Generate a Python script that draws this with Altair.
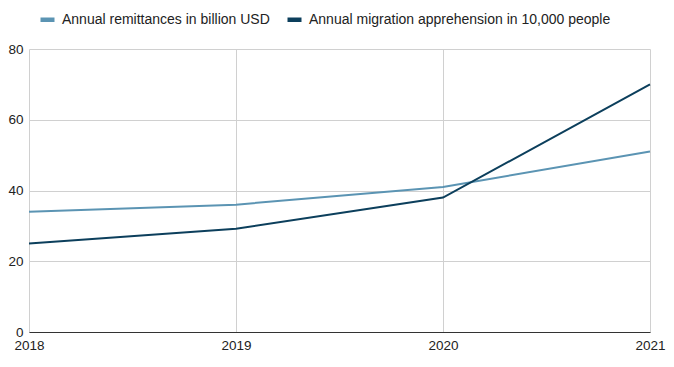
import altair as alt
import pandas as pd

years = [2018, 2019, 2020, 2021]
remittances = [34.0, 36.0, 41.0, 51.0]
apprehension = [25.0, 29.2, 38.0, 70.0]
series_names = ["Annual remittances in billion USD", "Annual migration apprehension in 10,000 people"]
colors = ["#5b94b3", "#0c3f5c"]

rows = []
for y, v in zip(years, remittances):
    rows.append({"year": y, "value": v, "series": series_names[0]})
for y, v in zip(years, apprehension):
    rows.append({"year": y, "value": v, "series": series_names[1]})
df = pd.DataFrame(rows)

FONT = "Liberation Sans"

chart = alt.Chart(df).mark_line(strokeWidth=2).encode(
    x=alt.X("year:Q", scale=alt.Scale(domain=[2018, 2021], nice=False, zero=False),
            axis=alt.Axis(values=years, format="d", title=None, grid=True, gridColor="#d0d0d0",
                          ticks=False, domain=True, domainColor="#333333", domainWidth=1,
                          labelFontSize=13.5, labelColor="#222222", labelPadding=6,
                          labelFont=FONT, labelFlush=False)),
    y=alt.Y("value:Q", scale=alt.Scale(domain=[0, 80], nice=False),
            axis=alt.Axis(values=[0, 20, 40, 60, 80], title=None, grid=True, gridColor="#d0d0d0",
                          ticks=False, domain=False, labelFontSize=13.5, labelColor="#222222",
                          labelPadding=6, labelFont=FONT)),
    color=alt.Color("series:N", scale=alt.Scale(domain=series_names, range=colors),
                    legend=alt.Legend(title=None, orient="none", legendX=9, legendY=-39,
                                      direction="horizontal", symbolType="stroke",
                                      symbolSize=196, symbolStrokeWidth=4.5, labelFontSize=14,
                                      labelColor="#222222", labelFont=FONT, labelLimit=500,
                                      labelOffset=5, columnPadding=8, padding=0)),
    order="year:Q",
).properties(
    width=621, height=283,
    autosize=alt.AutoSizeParams(type="none"),
    padding={"left": 21, "top": 41, "right": 16, "bottom": 26},
).configure_view(stroke=None)

chart.save("out.html", embed_options={"renderer": "svg", "actions": False})
